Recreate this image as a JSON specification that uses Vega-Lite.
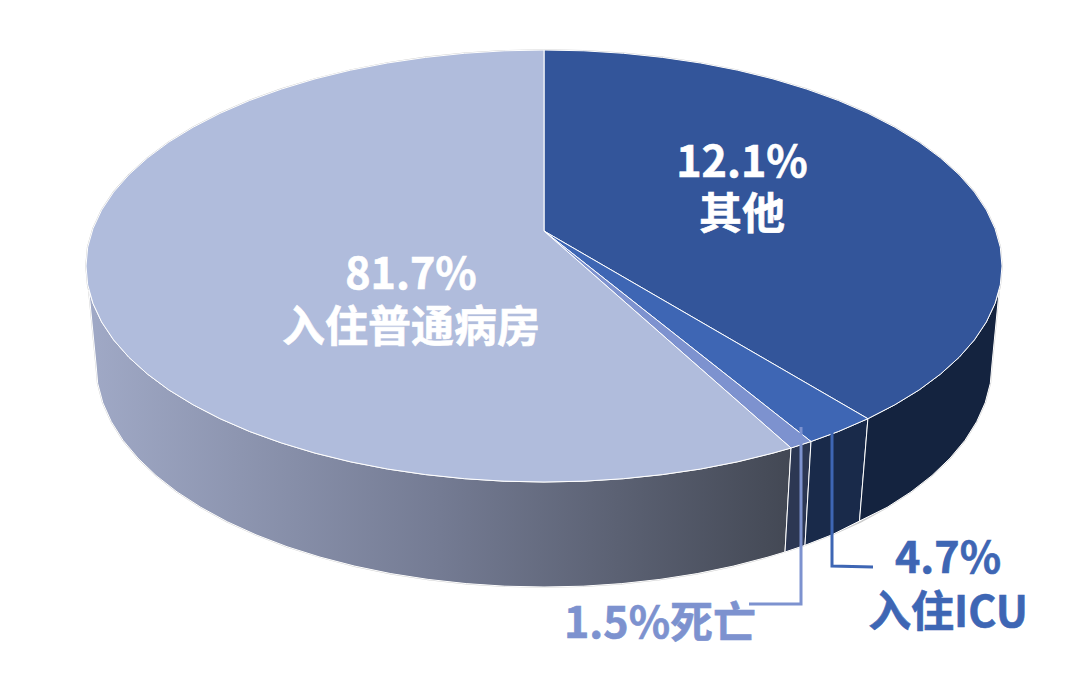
{
"$schema":"https://vega.github.io/schema/vega-lite/v6.json",
"width":1080,"height":674,"padding":0,
"autosize":{"type":"fit","contains":"padding"},
"background":"white",
"config":{"view":{"stroke":null}},
"encoding":{
"x":{"field":"x","type":"quantitative","axis":null,"scale":{"domain":[-544,536],"nice":false,"zero":false}},
"y":{"field":"y","type":"quantitative","axis":null,"scale":{"domain":[-408,266],"nice":false,"zero":false}}
},
"datasets":{
"silhouette":[{"x":-455.2,"y":-24},{"x":-456.3,"y":-18.8},{"x":-458,"y":0},{"x":-456.3,"y":18.8},{"x":-451,"y":37.5},{"x":-442.4,"y":55.9},{"x":-430.4,"y":73.9},{"x":-415.1,"y":91.3},{"x":-396.6,"y":108},{"x":-375.2,"y":123.9},{"x":-350.8,"y":138.8},{"x":-323.9,"y":152.7},{"x":-294.4,"y":165.5},{"x":-262.7,"y":176.9},{"x":-229,"y":187.1},{"x":-193.6,"y":195.8},{"x":-156.6,"y":203},{"x":-118.5,"y":208.6},{"x":-79.5,"y":212.7},{"x":-39.9,"y":215.2},{"x":0,"y":216},{"x":39.9,"y":215.2},{"x":79.5,"y":212.7},{"x":118.5,"y":208.6},{"x":156.6,"y":203},{"x":193.6,"y":195.8},{"x":229,"y":187.1},{"x":262.7,"y":176.9},{"x":294.4,"y":165.5},{"x":323.9,"y":152.7},{"x":350.8,"y":138.8},{"x":375.2,"y":123.9},{"x":396.6,"y":108},{"x":415.1,"y":91.3},{"x":430.4,"y":73.9},{"x":442.4,"y":55.9},{"x":451,"y":37.5},{"x":456.3,"y":18.8},{"x":458,"y":0},{"x":456.3,"y":-18.8},{"x":455.2,"y":-24},{"x":448,"y":-98},{"x":446.3,"y":-117.4},{"x":441.2,"y":-136.7},{"x":432.7,"y":-155.7},{"x":421,"y":-174.3},{"x":406,"y":-192.2},{"x":388,"y":-209.5},{"x":367,"y":-225.9},{"x":343.2,"y":-241.3},{"x":316.8,"y":-255.7},{"x":288,"y":-268.8},{"x":257,"y":-280.7},{"x":224,"y":-291.1},{"x":189.3,"y":-300.1},{"x":153.2,"y":-307.6},{"x":115.9,"y":-313.4},{"x":77.8,"y":-317.6},{"x":39.1,"y":-320.2},{"x":0,"y":-321},{"x":-39.1,"y":-320.2},{"x":-77.8,"y":-317.6},{"x":-115.9,"y":-313.4},{"x":-153.2,"y":-307.6},{"x":-189.3,"y":-300.1},{"x":-224,"y":-291.1},{"x":-257,"y":-280.7},{"x":-288,"y":-268.8},{"x":-316.8,"y":-255.7},{"x":-343.2,"y":-241.3},{"x":-367,"y":-225.9},{"x":-388,"y":-209.5},{"x":-406,"y":-192.2},{"x":-421,"y":-174.3},{"x":-432.7,"y":-155.7},{"x":-441.2,"y":-136.7},{"x":-446.3,"y":-117.4},{"x":-448,"y":-98},{"x":-455.2,"y":-24}],
"wallWard":[{"x":-455.2,"y":-24},{"x":-451,"y":-37.5},{"x":-442.4,"y":-55.9},{"x":-430.4,"y":-73.9},{"x":-415.1,"y":-91.3},{"x":-396.6,"y":-108},{"x":-375.2,"y":-123.9},{"x":-350.8,"y":-138.8},{"x":-323.9,"y":-152.7},{"x":-294.4,"y":-165.5},{"x":-262.7,"y":-176.9},{"x":-229,"y":-187.1},{"x":-193.6,"y":-195.8},{"x":-156.6,"y":-203},{"x":-118.5,"y":-208.6},{"x":-79.5,"y":-212.7},{"x":-39.9,"y":-215.2},{"x":0,"y":-216},{"x":39.9,"y":-215.2},{"x":79.5,"y":-212.7},{"x":118.5,"y":-208.6},{"x":156.6,"y":-203},{"x":193.6,"y":-195.8},{"x":229,"y":-187.1},{"x":247,"y":-182},{"x":241,"y":-286},{"x":224,"y":-291.1},{"x":189.3,"y":-300.1},{"x":153.2,"y":-307.6},{"x":115.9,"y":-313.4},{"x":77.8,"y":-317.6},{"x":39.1,"y":-320.2},{"x":0,"y":-321},{"x":-39.1,"y":-320.2},{"x":-77.8,"y":-317.6},{"x":-115.9,"y":-313.4},{"x":-153.2,"y":-307.6},{"x":-189.3,"y":-300.1},{"x":-224,"y":-291.1},{"x":-257,"y":-280.7},{"x":-288,"y":-268.8},{"x":-316.8,"y":-255.7},{"x":-343.2,"y":-241.3},{"x":-367,"y":-225.9},{"x":-388,"y":-209.5},{"x":-406,"y":-192.2},{"x":-421,"y":-174.3},{"x":-432.7,"y":-155.7},{"x":-441.2,"y":-136.7},{"x":-446.3,"y":-117.4},{"x":-448,"y":-98},{"x":-455.2,"y":-24}],
"wallDeath":[{"x":247,"y":-182},{"x":267,"y":-175.5},{"x":261,"y":-279.3},{"x":241,"y":-286},{"x":247,"y":-182}],
"wallICU":[{"x":267,"y":-175.5},{"x":294.4,"y":-165.5},{"x":323.9,"y":-152.7},{"x":315.5,"y":-255},{"x":288,"y":-268.8},{"x":261,"y":-279.3},{"x":267,"y":-175.5}],
"wallOther":[{"x":323.9,"y":-152.7},{"x":350.8,"y":-138.8},{"x":375.2,"y":-123.9},{"x":396.6,"y":-108},{"x":415.1,"y":-91.3},{"x":430.4,"y":-73.9},{"x":442.4,"y":-55.9},{"x":451,"y":-37.5},{"x":455.2,"y":-24},{"x":448,"y":-98},{"x":446.3,"y":-117.4},{"x":441.2,"y":-136.7},{"x":432.7,"y":-155.7},{"x":421,"y":-174.3},{"x":406,"y":-192.2},{"x":388,"y":-209.5},{"x":367,"y":-225.9},{"x":343.2,"y":-241.3},{"x":315.5,"y":-255},{"x":323.9,"y":-152.7}],
"topOther":[{"x":0,"y":35},{"x":0,"y":216},{"x":39.9,"y":215.2},{"x":79.5,"y":212.7},{"x":118.5,"y":208.6},{"x":156.6,"y":203},{"x":193.6,"y":195.8},{"x":229,"y":187.1},{"x":262.7,"y":176.9},{"x":294.4,"y":165.5},{"x":323.9,"y":152.7},{"x":350.8,"y":138.8},{"x":375.2,"y":123.9},{"x":396.6,"y":108},{"x":415.1,"y":91.3},{"x":430.4,"y":73.9},{"x":442.4,"y":55.9},{"x":451,"y":37.5},{"x":456.3,"y":18.8},{"x":458,"y":0},{"x":456.3,"y":-18.8},{"x":451,"y":-37.5},{"x":442.4,"y":-55.9},{"x":430.4,"y":-73.9},{"x":415.1,"y":-91.3},{"x":396.6,"y":-108},{"x":375.2,"y":-123.9},{"x":350.8,"y":-138.8},{"x":323.9,"y":-152.7},{"x":0,"y":35}],
"topICU":[{"x":0,"y":35},{"x":323.9,"y":-152.7},{"x":294.4,"y":-165.5},{"x":267,"y":-175.5},{"x":0,"y":35}],
"topDeath":[{"x":0,"y":35},{"x":267,"y":-175.5},{"x":247,"y":-182},{"x":0,"y":35}],
"topWard":[{"x":0,"y":35},{"x":247,"y":-182},{"x":229,"y":-187.1},{"x":193.6,"y":-195.8},{"x":156.6,"y":-203},{"x":118.5,"y":-208.6},{"x":79.5,"y":-212.7},{"x":39.9,"y":-215.2},{"x":0,"y":-216},{"x":-39.9,"y":-215.2},{"x":-79.5,"y":-212.7},{"x":-118.5,"y":-208.6},{"x":-156.6,"y":-203},{"x":-193.6,"y":-195.8},{"x":-229,"y":-187.1},{"x":-262.7,"y":-176.9},{"x":-294.4,"y":-165.5},{"x":-323.9,"y":-152.7},{"x":-350.8,"y":-138.8},{"x":-375.2,"y":-123.9},{"x":-396.6,"y":-108},{"x":-415.1,"y":-91.3},{"x":-430.4,"y":-73.9},{"x":-442.4,"y":-55.9},{"x":-451,"y":-37.5},{"x":-456.3,"y":-18.8},{"x":-458,"y":0},{"x":-456.3,"y":18.8},{"x":-451,"y":37.5},{"x":-442.4,"y":55.9},{"x":-430.4,"y":73.9},{"x":-415.1,"y":91.3},{"x":-396.6,"y":108},{"x":-375.2,"y":123.9},{"x":-350.8,"y":138.8},{"x":-323.9,"y":152.7},{"x":-294.4,"y":165.5},{"x":-262.7,"y":176.9},{"x":-229,"y":187.1},{"x":-193.6,"y":195.8},{"x":-156.6,"y":203},{"x":-118.5,"y":208.6},{"x":-79.5,"y":212.7},{"x":-39.9,"y":215.2},{"x":0,"y":216},{"x":0,"y":35}],
"leaderDeath":[{"x":257,"y":-161},{"x":257,"y":-338},{"x":205,"y":-338}],
"leaderICU":[{"x":288,"y":-166},{"x":288,"y":-300},{"x":329,"y":-301}],
"labelOther":[{"x":198,"y":102,"label":["12.1%","其他"]}],
"labelWard":[{"x":-133,"y":-10,"label":["81.7%","入住普通病房"]}],
"labelICU":[{"x":404,"y":-294,"label":["4.7%","入住ICU"]}],
"labelDeath":[{"x":116,"y":-359,"label":"1.5%死亡"}]
},
"layer":[
{"data":{"name":"silhouette"},"mark":{"type":"line","stroke":"#cccccc","strokeWidth":1.6},"encoding":{"order":{"value":null}}},
{"data":{"name":"wallWard"},"mark":{"type":"line","stroke":"#ffffff","strokeWidth":1,"fill":{"gradient":"linear","x1":0,"y1":0,"x2":1,"y2":0,"stops":[{"offset":0,"color":"#a0a9c6"},{"offset":0.5,"color":"#747b93"},{"offset":1,"color":"#434854"}]}},"encoding":{"order":{"value":null}}},
{"data":{"name":"wallDeath"},"mark":{"type":"line","stroke":"#ffffff","strokeWidth":1,"fill":"#2c3753"},"encoding":{"order":{"value":null}}},
{"data":{"name":"wallICU"},"mark":{"type":"line","stroke":"#ffffff","strokeWidth":1,"fill":"#192a4a"},"encoding":{"order":{"value":null}}},
{"data":{"name":"wallOther"},"mark":{"type":"line","stroke":"#ffffff","strokeWidth":1,"fill":"#14233f"},"encoding":{"order":{"value":null}}},
{"data":{"name":"topOther"},"mark":{"type":"line","stroke":"#ffffff","strokeWidth":1,"fill":"#33559a"},"encoding":{"order":{"value":null}}},
{"data":{"name":"topICU"},"mark":{"type":"line","stroke":"#ffffff","strokeWidth":1,"fill":"#3e66b4"},"encoding":{"order":{"value":null}}},
{"data":{"name":"topDeath"},"mark":{"type":"line","stroke":"#ffffff","strokeWidth":1,"fill":"#7d92cf"},"encoding":{"order":{"value":null}}},
{"data":{"name":"topWard"},"mark":{"type":"line","stroke":"#ffffff","strokeWidth":1,"fill":"#b0bcdc"},"encoding":{"order":{"value":null}}},
{"data":{"name":"leaderDeath"},"mark":{"type":"line","stroke":"#7d92cf","strokeWidth":3},"encoding":{"order":{"value":null}}},
{"data":{"name":"leaderICU"},"mark":{"type":"line","stroke":"#3e66b4","strokeWidth":3},"encoding":{"order":{"value":null}}},
{"data":{"name":"labelOther"},"mark":{"type":"text","font":"Noto Sans CJK SC","fontWeight":"bold","fontSize":43,"lineHeight":52,"color":"#ffffff","stroke":"#ffffff","strokeWidth":0.6,"baseline":"middle","align":"center"},"encoding":{"text":{"field":"label"}}},
{"data":{"name":"labelWard"},"mark":{"type":"text","font":"Noto Sans CJK SC","fontWeight":"bold","fontSize":43,"lineHeight":53,"color":"#ffffff","stroke":"#ffffff","strokeWidth":0.6,"baseline":"middle","align":"center"},"encoding":{"text":{"field":"label"}}},
{"data":{"name":"labelICU"},"mark":{"type":"text","font":"Noto Sans CJK SC","fontWeight":"bold","fontSize":43,"lineHeight":54,"color":"#3e66b4","stroke":"#3e66b4","strokeWidth":0.6,"baseline":"middle","align":"center"},"encoding":{"text":{"field":"label"}}},
{"data":{"name":"labelDeath"},"mark":{"type":"text","font":"Noto Sans CJK SC","fontWeight":"bold","fontSize":43,"color":"#7d92cf","stroke":"#7d92cf","strokeWidth":0.6,"baseline":"middle","align":"center"},"encoding":{"text":{"field":"label"}}}
]
}
